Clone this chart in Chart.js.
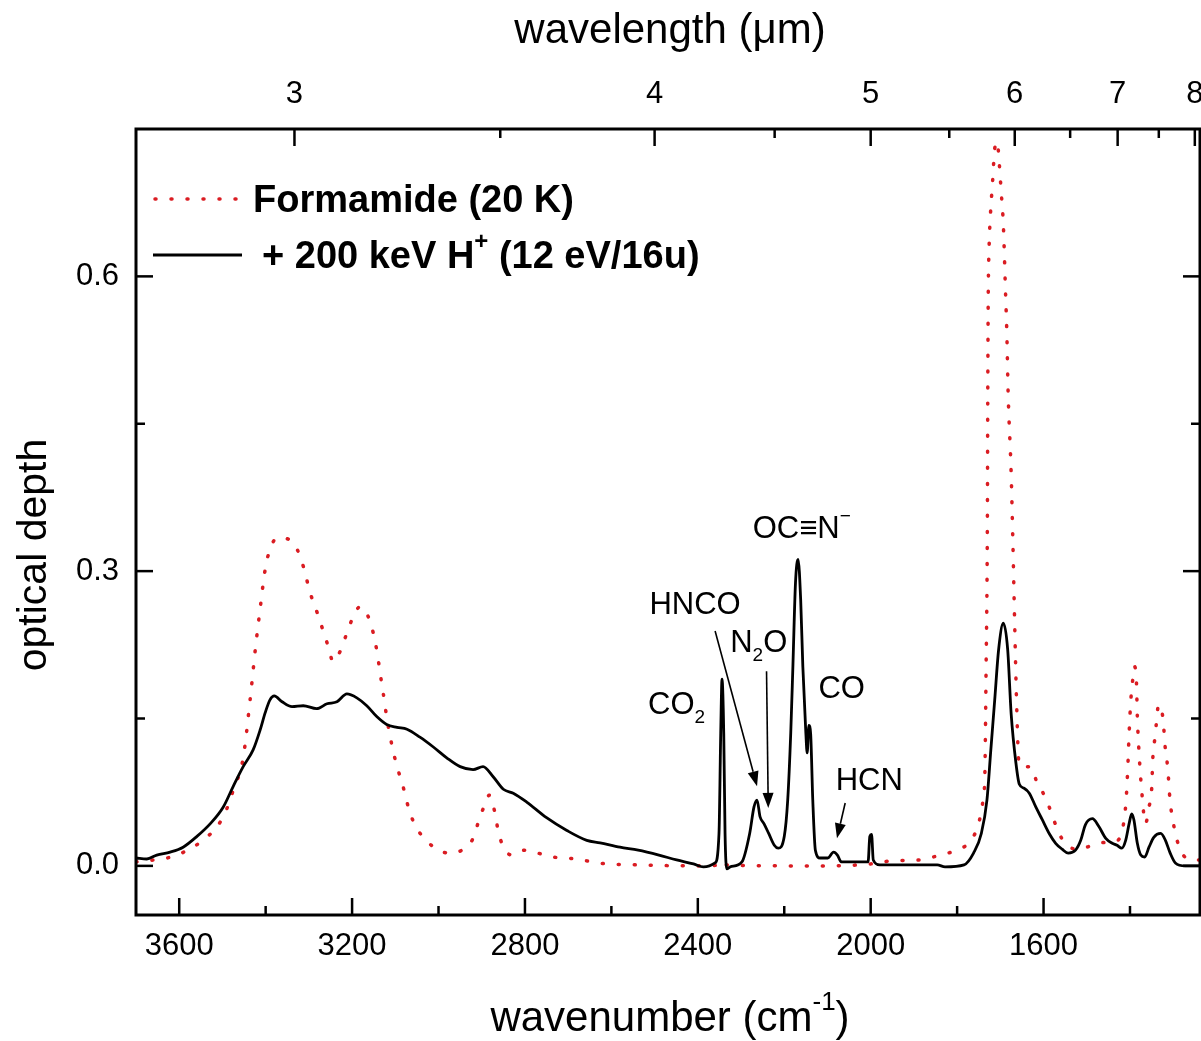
<!DOCTYPE html>
<html>
<head>
<meta charset="utf-8">
<script src="https://cdn.jsdelivr.net/npm/chart.js@4"></script>
<style>
  html, body { margin: 0; padding: 0; background: #fff; overflow: hidden; }
</style>
</head>
<body>
<canvas id="spectrum" width="1201" height="1041"></canvas>
<script>
// pure formamide ice at 20 K (red dotted)
const formamideWn = [3700, 3660, 3628, 3600, 3568, 3540, 3512, 3490, 3475, 3452, 3436, 3424, 3413, 3401, 3390, 3373, 3350, 3327, 3313, 3297, 3281, 3269, 3255, 3244, 3228, 3212, 3198, 3181, 3163, 3151, 3142, 3135, 3128, 3119, 3107, 3096, 3084, 3066, 3047, 3024, 3001, 2973, 2946, 2920, 2904, 2888, 2883, 2871, 2862, 2850, 2830, 2800, 2770, 2735, 2703, 2668, 2633, 2540, 2400, 2350, 2343, 2335, 2200, 2094, 2000, 1953, 1890, 1847, 1803, 1766, 1748, 1740, 1736, 1733, 1730, 1729, 1728, 1726, 1723, 1718, 1713, 1707, 1703, 1698, 1693, 1688, 1685, 1682, 1675, 1671, 1667, 1662, 1657, 1650, 1636, 1627, 1617, 1602, 1587, 1573, 1558, 1539, 1520, 1500, 1477, 1446, 1428, 1416, 1409, 1405, 1402, 1398, 1394, 1390, 1385, 1383, 1379, 1373, 1364, 1356, 1350, 1347, 1343, 1339, 1334, 1324, 1318, 1313, 1307, 1301, 1294, 1281, 1258, 1238]
const formamideOd = [0.004, 0.006, 0.008, 0.012, 0.019, 0.028, 0.04, 0.058, 0.077, 0.11, 0.169, 0.22, 0.261, 0.302, 0.322, 0.334, 0.333, 0.322, 0.305, 0.278, 0.258, 0.242, 0.223, 0.208, 0.218, 0.237, 0.253, 0.264, 0.254, 0.237, 0.217, 0.196, 0.176, 0.149, 0.121, 0.101, 0.084, 0.054, 0.036, 0.024, 0.016, 0.013, 0.016, 0.028, 0.05, 0.067, 0.072, 0.057, 0.036, 0.019, 0.011, 0.016, 0.013, 0.009, 0.008, 0.006, 0.003, 0.001, 0.0, 0.001, 0.005, 0.001, 0.0, 0.0, 0.002, 0.005, 0.006, 0.01, 0.016, 0.027, 0.047, 0.067, 0.09, 0.2, 0.35, 0.49, 0.58, 0.63, 0.662, 0.696, 0.73, 0.737, 0.718, 0.686, 0.652, 0.584, 0.543, 0.482, 0.4, 0.33, 0.25, 0.16, 0.105, 0.101, 0.101, 0.1, 0.087, 0.075, 0.06, 0.043, 0.028, 0.019, 0.017, 0.019, 0.023, 0.024, 0.026, 0.04, 0.067, 0.101, 0.135, 0.169, 0.188, 0.203, 0.186, 0.152, 0.115, 0.077, 0.043, 0.06, 0.077, 0.111, 0.128, 0.145, 0.164, 0.151, 0.118, 0.101, 0.065, 0.047, 0.031, 0.014, 0.006, 0.006]

// after 200 keV H+ irradiation (black solid)
const irradiatedWn = [3700, 3675, 3652, 3621, 3591, 3559, 3528, 3498, 3475, 3452, 3429, 3413, 3401, 3390, 3380, 3362, 3339, 3313, 3282, 3258, 3235, 3212, 3189, 3166, 3143, 3120, 3096, 3073, 3043, 3012, 2981, 2950, 2920, 2897, 2874, 2850, 2827, 2796, 2750, 2703, 2657, 2626, 2580, 2538, 2490, 2449, 2410, 2387, 2360, 2351, 2347, 2344, 2340, 2337, 2333, 2325, 2298, 2280, 2270, 2263, 2256, 2247, 2236, 2223, 2214, 2200, 2192, 2185, 2180, 2174, 2168, 2162, 2157, 2150, 2147, 2143, 2139, 2134, 2128, 2117, 2099, 2086, 2077, 2068, 2050, 2006, 2002, 1998, 1994, 1979, 1917, 1846, 1828, 1784, 1762, 1744, 1731, 1722, 1713, 1704, 1693, 1683, 1675, 1664, 1656, 1645, 1633, 1618, 1603, 1587, 1572, 1557, 1543, 1526, 1514, 1503, 1487, 1472, 1456, 1441, 1430, 1419, 1410, 1402, 1396, 1391, 1383, 1375, 1366, 1356, 1345, 1329, 1318, 1307, 1295, 1272, 1238]
const irradiatedOd = [0.008, 0.007, 0.011, 0.014, 0.019, 0.03, 0.043, 0.06, 0.081, 0.101, 0.118, 0.138, 0.156, 0.169, 0.173, 0.167, 0.162, 0.163, 0.16, 0.165, 0.167, 0.175, 0.171, 0.163, 0.152, 0.144, 0.141, 0.139, 0.131, 0.121, 0.11, 0.101, 0.098, 0.101, 0.091, 0.078, 0.074, 0.065, 0.049, 0.036, 0.026, 0.0235, 0.019, 0.016, 0.011, 0.006, 0.002, -0.001, 0.003, 0.033, 0.135, 0.19, 0.135, 0.033, -0.003, -0.001, 0.004, 0.033, 0.06, 0.067, 0.05, 0.043, 0.033, 0.021, 0.018, 0.03, 0.067, 0.135, 0.203, 0.288, 0.312, 0.271, 0.203, 0.135, 0.115, 0.143, 0.135, 0.067, 0.016, 0.008, 0.008, 0.014, 0.011, 0.004, 0.004, 0.004, 0.03, 0.032, 0.006, 0.001, 0.001, 0.001, -0.001, 0.001, 0.013, 0.033, 0.067, 0.118, 0.169, 0.22, 0.247, 0.22, 0.155, 0.105, 0.083, 0.079, 0.074, 0.06, 0.047, 0.033, 0.023, 0.017, 0.013, 0.016, 0.026, 0.042, 0.048, 0.04, 0.028, 0.023, 0.021, 0.018, 0.026, 0.043, 0.053, 0.047, 0.023, 0.011, 0.009, 0.019, 0.029, 0.033, 0.026, 0.013, 0.003, 0.0, 0.0]

// axis ticks
const xMajorTicks = [3600, 3200, 2800, 2400, 2000, 1600]
const xMinorTicks = [3400, 3000, 2600, 2200, 1800, 1400]
const yMajorTicks = [0, 0.3, 0.6]
const yMinorTicks = [0.15, 0.45]
const topMajorMicrons = [3, 4, 5, 6, 7, 8]
const topMinorMicrons = [3.5, 4.5, 5.5, 6.5, 7.5]

// band labels, anchored at (wavenumber, optical depth) of their left baseline
const bandLabels = [
    {parts: [['CO'], ['2', 'sub']], wn: 2515, od: 0.155},
    {parts: [['HNCO']], wn: 2512, od: 0.256},
    {parts: [['N'], ['2', 'sub'], ['O']], wn: 2325, od: 0.218},
    {parts: [['OC\u2261N'], ['\u2212', 'sup']], wn: 2273, od: 0.334},
    {parts: [['CO']], wn: 2121, od: 0.171},
    {parts: [['HCN']], wn: 2081, od: 0.077}
]
const bandArrows = [
    {from: [2360, 0.239], to: [2263, 0.081]},
    {from: [2241, 0.198], to: [2237, 0.059]},
    {from: [2059, 0.064], to: [2078, 0.028]}
]

const FONT = "'Liberation Sans', Arial, Helvetica, sans-serif"
const RED = 'rgb(218, 28, 34)'

function richText(ctx, parts, x, y, size, bold, align) {
    const fontFor = s => (bold ? 'bold ' : '') + s + 'px ' + FONT
    let total = 0
    const items = parts.map(([t, mode]) => {
        const s = mode ? Math.round(size * 0.62) : size
        ctx.font = fontFor(s)
        const w = ctx.measureText(t).width
        total += w
        return {t, mode, s, w}
    })
    let cx = align === 'center' ? x - total / 2 : x
    ctx.textAlign = 'left'
    ctx.textBaseline = 'alphabetic'
    items.forEach(p => {
        ctx.font = fontFor(p.s)
        const dy = p.mode === 'sub' ? size * 0.3 : p.mode === 'sup' ? -size * 0.5 : 0
        ctx.fillText(p.t, cx, y + dy)
        cx += p.w
    })
}

const framePlugin = {
    id: 'frame',
    afterDatasetsDraw(chart) {
        const {ctx, chartArea: a, scales} = chart
        const sx = scales.x, sy = scales.y, st = scales.x2
        ctx.save()
        ctx.strokeStyle = '#000'
        ctx.fillStyle = '#000'
        ctx.lineCap = 'butt'

        // ticks, all pointing inward
        ctx.lineWidth = 2.5
        const seg = (x1, y1, x2, y2) => { ctx.beginPath(); ctx.moveTo(x1, y1); ctx.lineTo(x2, y2); ctx.stroke() }
        xMajorTicks.forEach(v => { const x = sx.getPixelForValue(v); seg(x, a.bottom, x, a.bottom - 17) })
        xMinorTicks.forEach(v => { const x = sx.getPixelForValue(v); seg(x, a.bottom, x, a.bottom - 9) })
        topMajorMicrons.forEach(l => { const x = st.getPixelForValue(10000 / l); seg(x, a.top, x, a.top + 17) })
        topMinorMicrons.forEach(l => { const x = st.getPixelForValue(10000 / l); seg(x, a.top, x, a.top + 9) })
        yMajorTicks.forEach(v => { const y = sy.getPixelForValue(v); seg(a.left, y, a.left + 17, y); seg(a.right, y, a.right - 17, y) })
        yMinorTicks.forEach(v => { const y = sy.getPixelForValue(v); seg(a.left, y, a.left + 9, y); seg(a.right, y, a.right - 9, y) })

        // frame
        ctx.lineWidth = 3
        ctx.strokeRect(a.left, a.top, a.right - a.left, a.bottom - a.top)

        // axis titles
        richText(ctx, [['wavelength (\u03bcm)']], 670, 43, 42, false, 'center')
        richText(ctx, [['wavenumber (cm'], ['-1', 'sup'], [')']], 670, 1031, 42, false, 'center')
        ctx.save()
        ctx.translate(46, 555)
        ctx.rotate(-Math.PI / 2)
        richText(ctx, [['optical depth']], 0, 0, 41, false, 'center')
        ctx.restore()

        // legend
        ctx.lineCap = 'round'
        ctx.strokeStyle = RED
        ctx.lineWidth = 3.5
        ctx.setLineDash([1, 15])
        seg(155, 199, 242, 199)
        ctx.setLineDash([])
        ctx.lineCap = 'butt'
        ctx.strokeStyle = '#000'
        ctx.lineWidth = 2.8
        seg(153, 255, 242, 255)
        richText(ctx, [['Formamide (20 K)']], 253, 212, 38, true)
        richText(ctx, [['+ 200 keV H'], ['+', 'sup'], [' (12 eV/16u)']], 262, 268, 38, true)

        // band labels and arrows
        bandLabels.forEach(b => {
            richText(ctx, b.parts, sx.getPixelForValue(b.wn), sy.getPixelForValue(b.od), 31, false)
        })
        ctx.lineWidth = 1.6
        bandArrows.forEach(ar => {
            const x1 = sx.getPixelForValue(ar.from[0]), y1 = sy.getPixelForValue(ar.from[1])
            const x2 = sx.getPixelForValue(ar.to[0]), y2 = sy.getPixelForValue(ar.to[1])
            const ang = Math.atan2(y2 - y1, x2 - x1)
            const len = 15, half = 5.5
            const bx = x2 - len * Math.cos(ang), by = y2 - len * Math.sin(ang)
            seg(x1, y1, bx, by)
            ctx.beginPath()
            ctx.moveTo(x2, y2)
            ctx.lineTo(bx + half * Math.sin(ang), by - half * Math.cos(ang))
            ctx.lineTo(bx - half * Math.sin(ang), by + half * Math.cos(ang))
            ctx.closePath()
            ctx.fill()
        })
        ctx.restore()
    }
}

// keep the plot frame fixed: no automatic label padding at the edges
function noEdgePadding(s) {
    s.paddingLeft = 0
    s.paddingRight = 0
    s.paddingTop = 0
    s.paddingBottom = 0
}

const tickFont = {family: FONT, size: 31}
const canvas = document.getElementById('spectrum')
const chart = new Chart(canvas, {
    type: 'line',
    data: {
        datasets: [{
            label: '+ 200 keV H+ (12 eV/16u)',
            data: irradiatedWn.map((w, i) => ({x: w, y: irradiatedOd[i]})),
            borderColor: '#000',
            borderWidth: 2.8,
            pointRadius: 0,
            cubicInterpolationMode: 'monotone',
            order: 1
        }, {
            label: 'Formamide (20 K)',
            data: formamideWn.map((w, i) => ({x: w, y: formamideOd[i]})),
            borderColor: RED,
            borderWidth: 3.5,
            borderDash: [1, 15],
            borderCapStyle: 'round',
            pointRadius: 0,
            cubicInterpolationMode: 'monotone',
            order: 2
        }]
    },
    options: {
        responsive: false,
        animation: false,
        devicePixelRatio: 1,
        layout: {padding: {left: 0, right: 1, top: 0, bottom: 0}},
        plugins: {legend: {display: false}, tooltip: {enabled: false}},
        scales: {
            x: {
                type: 'linear', position: 'bottom', reverse: true, min: 1238, max: 3700,
                grid: {display: false, drawTicks: false}, border: {display: false},
                ticks: {font: tickFont, color: '#000', padding: 13, autoSkip: false, maxRotation: 0, callback: v => String(v)},
                afterBuildTicks: s => { s.ticks = xMajorTicks.map(v => ({value: v})) },
                afterFit: s => { s.height = 126; noEdgePadding(s) }
            },
            x2: {
                type: 'linear', axis: 'x', position: 'top', reverse: true, min: 1238, max: 3700,
                grid: {display: false, drawTicks: false}, border: {display: false},
                ticks: {font: tickFont, color: '#000', padding: 16, autoSkip: false, maxRotation: 0, callback: v => String(Math.round(10000 / v))},
                afterBuildTicks: s => { s.ticks = topMajorMicrons.map(l => ({value: 10000 / l})) },
                afterFit: s => { s.height = 129; noEdgePadding(s) }
            },
            y: {
                type: 'linear', position: 'left', min: -0.05, max: 0.75,
                grid: {display: false, drawTicks: false}, border: {display: false},
                ticks: {font: tickFont, color: '#000', padding: 17, autoSkip: false, callback: v => v.toFixed(1)},
                afterBuildTicks: s => { s.ticks = yMajorTicks.map(v => ({value: v})) },
                afterFit: s => { s.width = 136; noEdgePadding(s) }
            }
        }
    },
    plugins: [framePlugin]
})
</script>
</body>
</html>
